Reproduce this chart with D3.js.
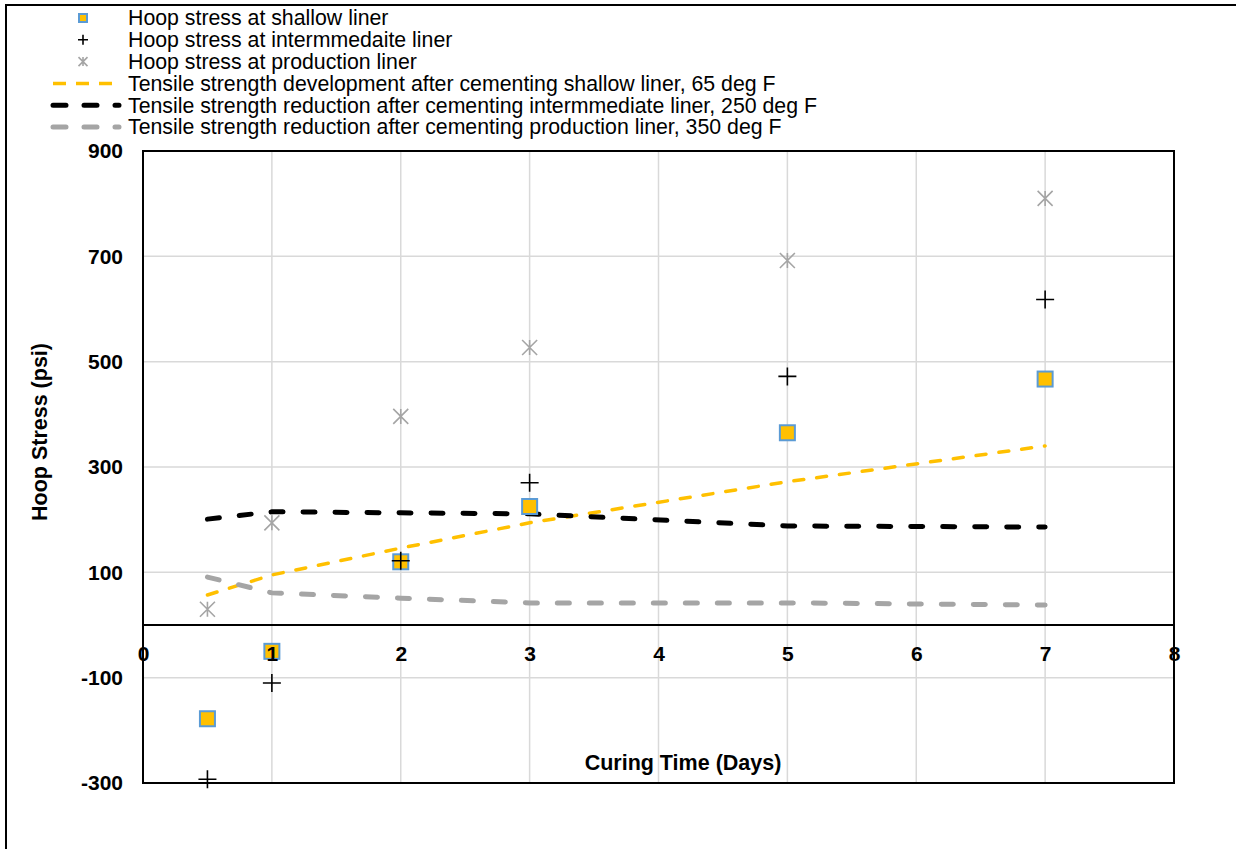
<!DOCTYPE html>
<html>
<head>
<meta charset="utf-8">
<script src="https://cdn.jsdelivr.net/npm/d3@7"></script>
<style>
  body { margin: 0; background: #fff; }
  text { font-family: "Liberation Sans", Arial, sans-serif; }
</style>
</head>
<body>
<svg id="chart" width="1236" height="849"></svg>
<script>
// Curing time (days) at which hoop stress and tensile strength were evaluated
const days = [0.5, 1, 2, 3, 5, 7];

// Hoop stress (psi) for each liner
const shallowHoop      = [-178, -50, 120, 225, 365, 467];
const intermediateHoop = [-293, -110, 122, 270, 472, 618];
const productionHoop   = [30, 194, 396, 527, 692, 810];

// Cement tensile strength (psi) after cementing each liner
const shallowTensile      = [57, 95, 146, 194, 272, 340];
const intermediateTensile = [201, 215, 213, 211, 188, 186];
const productionTensile   = [91, 61, 51, 42, 42, 38];

const xTicks = [0, 1, 2, 3, 4, 5, 6, 7, 8];
const yTicks = [900, 700, 500, 300, 100, -100, -300];

const legendLabels = [
  "Hoop stress at shallow liner",
  "Hoop stress at intermmedaite liner",
  "Hoop stress at production liner",
  "Tensile strength development after cementing shallow liner, 65 deg F",
  "Tensile strength reduction after cementing intermmediate liner, 250 deg F",
  "Tensile strength reduction after cementing production liner, 350 deg F"
];

const GOLD = "#FFC000", BLUE = "#5B9BD5", GREY = "#A5A5A5", GRID = "#D9D9D9";

const svg = d3.select("#chart");
const plot = { left: 143, right: 1174, top: 151, bottom: 783 };

const x = d3.scaleLinear().domain([0, 8]).range([plot.left, plot.right]);
const y = d3.scaleLinear().domain([-300, 900]).range([plot.bottom, plot.top]);

// outer chart frame
svg.append("rect")
  .attr("x", 6).attr("y", 5).attr("width", 1400).attr("height", 1000)
  .attr("fill", "none").attr("stroke", "#000").attr("stroke-width", 2);

// gridlines
const grid = svg.append("g");
grid.selectAll("line.v").data(xTicks.filter(d => d > 0 && d < 8)).join("line")
  .attr("x1", d => x(d)).attr("x2", d => x(d))
  .attr("y1", plot.top).attr("y2", plot.bottom)
  .attr("stroke", GRID).attr("stroke-width", 1.5);
grid.selectAll("line.h").data(yTicks.filter(d => d < 900 && d > -300)).join("line")
  .attr("x1", plot.left).attr("x2", plot.right)
  .attr("y1", d => y(d)).attr("y2", d => y(d))
  .attr("stroke", GRID).attr("stroke-width", 1.5);

// plot border
svg.append("rect")
  .attr("x", plot.left).attr("y", plot.top)
  .attr("width", plot.right - plot.left).attr("height", plot.bottom - plot.top)
  .attr("fill", "none").attr("stroke", "#000").attr("stroke-width", 2);

// zero line
svg.append("line")
  .attr("x1", plot.left).attr("x2", plot.right)
  .attr("y1", y(0)).attr("y2", y(0))
  .attr("stroke", "#000").attr("stroke-width", 2);

// axis titles
svg.append("text")
  .attr("transform", "translate(47,432) rotate(-90)")
  .attr("text-anchor", "middle")
  .attr("font-size", 21.5).attr("font-weight", "bold")
  .text("Hoop Stress (psi)");
svg.append("text")
  .attr("x", 683).attr("y", 770)
  .attr("text-anchor", "middle")
  .attr("font-size", 21.5).attr("font-weight", "bold")
  .text("Curing Time (Days)");

// tensile strength lines
const line = d3.line().x(d => x(d[0])).y(d => y(d[1]));
const lineSeries = [
  { values: shallowTensile, color: GOLD, width: 3.5, dash: "10,13" },
  { values: intermediateTensile, color: "#000", width: 5, dash: "12,20" },
  { values: productionTensile, color: GREY, width: 5, dash: "12,20" }
];
svg.append("g").selectAll("path").data(lineSeries).join("path")
  .attr("d", s => line(days.map((d, i) => [d, s.values[i]])))
  .attr("fill", "none")
  .attr("stroke", s => s.color)
  .attr("stroke-width", s => s.width)
  .attr("stroke-dasharray", s => s.dash)
  .attr("stroke-linecap", "round");

// marker drawing helpers
function square(g, cx, cy, s) {
  g.append("rect").attr("x", cx - s / 2).attr("y", cy - s / 2)
    .attr("width", s).attr("height", s)
    .attr("fill", GOLD).attr("stroke", BLUE).attr("stroke-width", 2);
}
function plus(g, cx, cy, s, w) {
  g.append("path")
    .attr("d", `M${cx - s / 2},${cy}H${cx + s / 2}M${cx},${cy - s / 2}V${cy + s / 2}`)
    .attr("stroke", "#000").attr("stroke-width", w).attr("fill", "none");
}
function cross(g, cx, cy, s, w) {
  const h = s / 2;
  g.append("path")
    .attr("d", `M${cx - h},${cy - h}L${cx + h},${cy + h}M${cx - h},${cy + h}L${cx + h},${cy - h}M${cx},${cy - h}V${cy + h}`)
    .attr("stroke", GREY).attr("stroke-width", w).attr("fill", "none");
}

// hoop stress markers
const markers = svg.append("g");
days.forEach((d, i) => cross(markers, x(d), y(productionHoop[i]), 15, 1.6));
days.forEach((d, i) => square(markers, x(d), y(shallowHoop[i]), 15));
days.forEach((d, i) => plus(markers, x(d), y(intermediateHoop[i]), 18, 1.6));

// axes (labels only, drawn above the markers)
const yAxis = svg.append("g").attr("transform", `translate(${plot.left},0)`)
  .call(d3.axisLeft(y).tickValues(yTicks).tickSize(0).tickPadding(20).tickFormat(d => String(d)));
const xAxis = svg.append("g").attr("transform", `translate(0,${y(0)})`)
  .call(d3.axisBottom(x).tickValues(xTicks).tickSize(0).tickPadding(21).tickFormat(d => String(d)));
[yAxis, xAxis].forEach(g => {
  g.select(".domain").remove();
  g.selectAll("text")
    .attr("font-family", "'Liberation Sans', Arial, sans-serif")
    .attr("font-size", 21).attr("font-weight", "bold").attr("fill", "#000");
});
xAxis.selectAll("text").attr("dy", null).attr("y", 36);

// legend
const legend = svg.append("g");
const rowY = i => 18 + i * 21.8;
legend.selectAll("text").data(legendLabels).join("text")
  .attr("x", 128).attr("y", (d, i) => rowY(i))
  .attr("dy", "0.35em")
  .attr("font-size", 21.3)
  .text(d => d);
square(legend, 83, rowY(0), 8);
plus(legend, 83, rowY(1), 10, 1.6);
cross(legend, 83, rowY(2), 9, 1.6);
const legendLines = [
  { i: 3, color: GOLD, width: 3.5, dash: "13,10", x2: 112 },
  { i: 4, color: "#000", width: 5, dash: "13,18", x2: 119 },
  { i: 5, color: GREY, width: 5, dash: "13,18", x2: 119 }
];
legend.selectAll("line").data(legendLines).join("line")
  .attr("x1", 53).attr("x2", d => d.x2)
  .attr("y1", d => rowY(d.i)).attr("y2", d => rowY(d.i))
  .attr("stroke", d => d.color).attr("stroke-width", d => d.width)
  .attr("stroke-dasharray", d => d.dash)
  .attr("stroke-linecap", d => d.i === 3 ? "butt" : "round");
</script>
</body>
</html>
